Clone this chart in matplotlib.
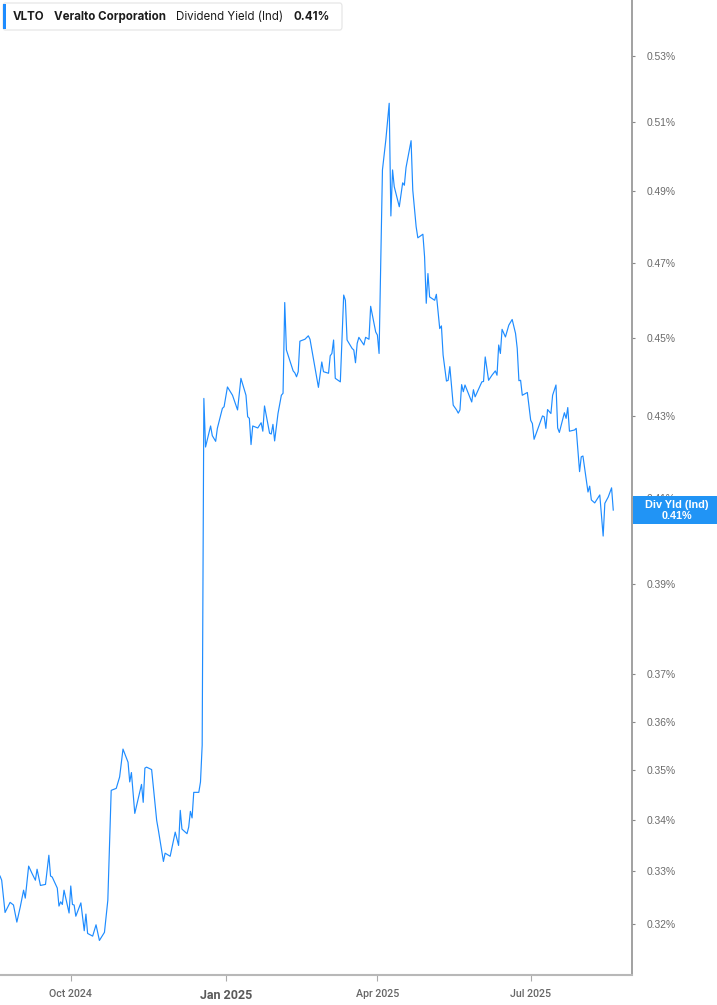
import matplotlib
matplotlib.use('Agg')
import matplotlib.pyplot as plt
import matplotlib.dates as mdates
from matplotlib.patches import FancyBboxPatch, Rectangle
from matplotlib.ticker import FixedLocator, NullLocator, FuncFormatter
import pandas as pd

# daily dividend yield (%); offsets are days from START
START = '2024-08-20'
day_offsets = [
    0, 1, 3, 6, 8, 10, 12, 14, 15, 17, 19, 21, 22, 24, 27, 29, 30, 31, 34, 35,
    36, 37, 38, 41, 42, 43, 44, 45, 48, 50, 51, 52, 55, 57, 59, 62, 64, 66, 69, 71,
    73, 76, 77, 78, 80, 84, 85, 86, 87, 90, 93, 94, 97, 98, 101, 104, 106, 107, 108, 111,
    112, 113, 114, 115, 118, 119, 120, 121, 122, 125, 126, 128, 129, 132, 133, 135, 138, 141, 143, 146,
    147, 148, 149, 150, 153, 155, 156, 157, 160, 161, 162, 163, 165, 167, 168, 169, 170, 174, 175, 176,
    177, 178, 181, 183, 184, 189, 191, 192, 195, 196, 197, 198, 199, 202, 204, 205, 206, 209, 210, 211,
    212, 213, 216, 217, 219, 220, 223, 224, 225, 227, 229, 231, 232, 233, 234, 237, 239, 240, 241, 244,
    245, 247, 248, 251, 252, 253, 254, 255, 258, 259, 261, 262, 263, 265, 266, 267, 269, 271, 272, 273,
    274, 275, 276, 280, 281, 282, 286, 287, 288, 290, 292, 294, 295, 296, 297, 298, 300, 302, 304, 306,
    307, 308, 309, 310, 313, 315, 316, 317, 320, 322, 323, 324, 325, 327, 328, 330, 331, 332, 335, 336,
    337, 338, 341, 342, 344, 345, 346, 349, 350, 351, 353, 356, 358, 359, 361, 363, 364,
]
div_yield = [
    0.3291, 0.3283, 0.3222, 0.3241, 0.3236, 0.3204, 0.3232, 0.3264, 0.3249, 0.3310,
    0.3296, 0.3283, 0.3304, 0.3273, 0.3275, 0.3331, 0.3291, 0.3289, 0.3268, 0.3234,
    0.3242, 0.3237, 0.3264, 0.3221, 0.3272, 0.3237, 0.3236, 0.3215, 0.3240, 0.3188,
    0.3219, 0.3183, 0.3178, 0.3199, 0.3170, 0.3185, 0.3245, 0.3459, 0.3463, 0.3486,
    0.3543, 0.3516, 0.3476, 0.3495, 0.3413, 0.3471, 0.3435, 0.3504, 0.3506, 0.3501,
    0.3399, 0.3380, 0.3319, 0.3335, 0.3329, 0.3376, 0.3350, 0.3419, 0.3382, 0.3373,
    0.3386, 0.3417, 0.3404, 0.3455, 0.3455, 0.3476, 0.3551, 0.4344, 0.4223, 0.4275,
    0.4251, 0.4237, 0.4269, 0.4319, 0.4323, 0.4373, 0.4352, 0.4315, 0.4395, 0.4352,
    0.4298, 0.4294, 0.4229, 0.4275, 0.4270, 0.4283, 0.4262, 0.4325, 0.4257, 0.4255,
    0.4279, 0.4238, 0.4306, 0.4352, 0.4357, 0.4593, 0.4468, 0.4414, 0.4409, 0.4399,
    0.4412, 0.4491, 0.4496, 0.4505, 0.4496, 0.4372, 0.4437, 0.4412, 0.4408, 0.4453,
    0.4459, 0.4494, 0.4395, 0.4386, 0.4613, 0.4599, 0.4494, 0.4472, 0.4468, 0.4435,
    0.4485, 0.4501, 0.4481, 0.4501, 0.4496, 0.4583, 0.4515, 0.4507, 0.4459, 0.4961,
    0.5048, 0.5157, 0.4830, 0.4961, 0.4913, 0.4856, 0.4924, 0.4917, 0.4968, 0.5046,
    0.4903, 0.4800, 0.4769, 0.4779, 0.4717, 0.4591, 0.4671, 0.4608, 0.4599, 0.4615,
    0.4524, 0.4531, 0.4455, 0.4388, 0.4390, 0.4425, 0.4327, 0.4315, 0.4307, 0.4315,
    0.4379, 0.4361, 0.4378, 0.4335, 0.4366, 0.4348, 0.4386, 0.4387, 0.4450, 0.4390,
    0.4403, 0.4414, 0.4403, 0.4481, 0.4459, 0.4522, 0.4502, 0.4533, 0.4548, 0.4511,
    0.4472, 0.4389, 0.4390, 0.4352, 0.4359, 0.4289, 0.4281, 0.4242, 0.4277, 0.4300,
    0.4298, 0.4269, 0.4316, 0.4306, 0.4352, 0.4378, 0.4270, 0.4259, 0.4308, 0.4294,
    0.4321, 0.4262, 0.4265, 0.4269, 0.4163, 0.4199, 0.4201, 0.4114, 0.4128, 0.4095,
    0.4088, 0.4107, 0.4010, 0.4087, 0.4102, 0.4124, 0.4071,
]

y_ticks = [0.32, 0.33, 0.34, 0.35, 0.36, 0.37, 0.39, 0.41, 0.43, 0.45, 0.47, 0.49, 0.51, 0.53]
x_tick_dates = ['2024-10-01', '2025-01-01', '2025-04-01', '2025-07-01']
x_tick_labels = ['Oct 2024', 'Jan 2025', 'Apr 2025', 'Jul 2025']

ticker = 'VLTO'
company = 'Veralto Corporation'
metric = 'Dividend Yield (Ind)'
tag_label = 'Div Yld (Ind)'

W, H = 717, 1005
LINE = '#1e8cff'
TAG = '#2194f5'


def fx(px):
    return px / W


def fy(py):
    return 1 - py / H


def main():
    dates = pd.Timestamp(START) + pd.to_timedelta(day_offsets, unit='D')
    last_val = div_yield[-1]

    fig = plt.figure(figsize=(W / 100, H / 100), dpi=100)
    ax = fig.add_axes([0, fy(975), fx(632.3), fy(0) - fy(975)])

    ax.plot(dates, div_yield, color=LINE, linewidth=0.85)

    ax.set_yscale('log')
    ax.set_ylim(0.3107, 0.5476)
    ax.set_xlim(pd.Timestamp(START), pd.Timestamp(START) + pd.Timedelta(days=375.3))

    ax.yaxis.tick_right()
    ax.yaxis.set_major_locator(FixedLocator(y_ticks))
    ax.yaxis.set_minor_locator(NullLocator())
    ax.yaxis.set_major_formatter(FuncFormatter(lambda v, p: f'{v:.2f}%'))
    ax.tick_params(axis='y', length=2, width=0.8, color='#888888', labelcolor='#6a6a6a',
                   labelsize=7.4, pad=8)
    for lab in ax.get_yticklabels():
        lab.set_fontfamily('Liberation Sans')

    tick_nums = [mdates.date2num(pd.Timestamp(d)) for d in x_tick_dates]
    ax.xaxis.set_major_locator(FixedLocator(tick_nums))
    ax.xaxis.set_minor_locator(NullLocator())
    ax.set_xticklabels(x_tick_labels)
    ax.tick_params(axis='x', length=4, width=0.8, color='#aaaaaa', labelcolor='#666666',
                   labelsize=7.7, pad=6)
    for i, lab in enumerate(ax.get_xticklabels()):
        lab.set_fontfamily('Roboto')
        lab.set_fontweight('medium')
        if i == 1:
            lab.set_fontsize(9)
            lab.set_fontweight('bold')
            lab.set_color('#5a5a5a')

    for side in ['left', 'top']:
        ax.spines[side].set_visible(False)
    ax.spines['right'].set_color('#9a9a9a')
    ax.spines['right'].set_linewidth(1.3)
    ax.spines['bottom'].set_color('#b8b8b8')
    ax.spines['bottom'].set_linewidth(1.5)
    ax.patch.set_alpha(0)

    # header box
    box = FancyBboxPatch((fx(3), fy(30)), fx(342) - fx(3), fy(3) - fy(30),
                         boxstyle='round,pad=0,rounding_size=0.003',
                         transform=fig.transFigure, facecolor='white',
                         edgecolor='#e4e4e4', linewidth=0.8)
    fig.add_artist(box)
    fig.add_artist(Rectangle((fx(3), fy(29)), fx(6) - fx(3), fy(4) - fy(29),
                             transform=fig.transFigure, color=LINE, linewidth=0))
    head_y = fy(16.5)
    fs = 8.3
    fig.text(fx(13), head_y, ticker, fontsize=fs, fontweight='bold', family='Inter',
             color='#1c1c1c', va='center')
    fig.text(fx(54), head_y, company, fontsize=fs, fontweight='bold', family='Inter',
             color='#1c1c1c', va='center')
    fig.text(fx(176), head_y, metric, fontsize=fs, family='Inter',
             color='#1c1c1c', va='center')
    fig.text(fx(293), head_y, f'{last_val:.2f}%', fontsize=fs, fontweight='bold',
             family='Inter', color='#1c1c1c', va='center')

    # last value tag on the right axis
    fig.add_artist(Rectangle((fx(632.5), fy(523.5)), fx(717) - fx(632.5), fy(496) - fy(523.5),
                             transform=fig.transFigure, color=TAG, linewidth=0))
    fig.text(fx(677), fy(505), tag_label, fontsize=7.8, fontweight='bold', family='Liberation Sans',
             color='white', ha='center', va='center')
    fig.text(fx(677), fy(516), f'{last_val:.2f}%', fontsize=7.8, fontweight='bold',
             family='Liberation Sans', color='white', ha='center', va='center')

    fig.savefig('out.png', dpi=100)


if __name__ == '__main__':
    main()
